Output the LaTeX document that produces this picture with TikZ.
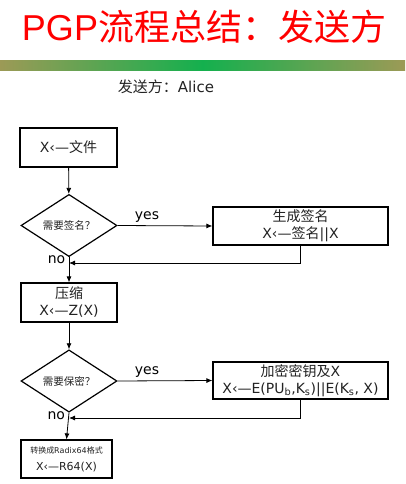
\documentclass[tikz,border=0pt]{standalone}
\usepackage{fontspec}
\setmainfont{DejaVu Sans}
\newfontfamily\cjk{Noto Sans CJK SC}
\newfontfamily\titlefont{Liberation Sans}
\usetikzlibrary{shapes.geometric, arrows.meta}
\newcommand{\zh}[1]{{\cjk #1}}
\definecolor{barolive}{HTML}{9C9A56}
\definecolor{bargreen}{HTML}{14B04E}
\definecolor{inkgray}{HTML}{222222}
\tikzset{
	box/.style={draw, line width=1.2pt, inner sep=0pt, align=center, text=inkgray, font=\fontsize{14}{17}\selectfont},
	decision/.style={diamond, draw, line width=1.2pt, inner sep=0pt, minimum width=96pt, minimum height=39pt, text=inkgray, font=\fontsize{10.5}{12}\selectfont},
	flow/.style={line width=0.8pt, -{Latex[length=6pt,width=5pt]}},
	answer/.style={font=\fontsize{14}{16}\selectfont},
}

\begin{document}
\begin{tikzpicture}[x=1pt, y=-1pt]
			\def\xMAX{405};
			\def\yMAX{484};
			\useasboundingbox (0,0) rectangle (\xMAX,\yMAX);

			\begin{scope}
				\node [text=red, font=\titlefont\fontsize{36}{40}\selectfont] (title) at (204,27) {PGP\zh{流程总结：发送方}};
				\shade [left color=barolive, right color=barolive, middle color=bargreen] (0,61) rectangle (\xMAX,71);
				\node [text=inkgray, font=\fontsize{15}{18}\selectfont] (sender) at (166,87) {\zh{发送方：}Alice};
			\end{scope}

			\begin{scope}
				\node [box, minimum width=97pt, minimum height=39pt] (file) at (68.5,147.5) {X‹—\zh{文件}};
				\node [decision] (needsign) at (69,225.5) {\zh{需要签名？}};
				\node [box, minimum width=175pt, minimum height=38pt] (sign) at (300.5,226) {\zh{生成签名}\\X‹—\zh{签名}||X};
				\node [box, minimum width=96pt, minimum height=39pt] (zip) at (69,302.5) {\zh{压缩}\\X‹—Z(X)};
				\node [decision, minimum height=38pt] (needseal) at (69,381) {\zh{需要保密？}};
				\node [box, minimum width=175pt, minimum height=37pt] (seal) at (300.5,380.5) {\zh{加密密钥及}X\\X‹—E(PU\textsubscript{b},K\textsubscript{s})||E(K\textsubscript{s}, X)};
				\node [box, minimum width=91pt, minimum height=38pt] (radix) at (66.5,459) {{\fontsize{8}{10}\selectfont\zh{转换成}Radix64\zh{格式}}\\{\fontsize{11}{14}\selectfont X‹—R64(X)}};
			\end{scope}

			\begin{scope}
				\coordinate (join1) at (needsign.south |- 0,263);
				\coordinate (join2) at (needseal.south |- 0,418);

				\draw [flow] (file) -- (needsign);
				\draw [flow] (needsign.east) -- node [answer, above, pos=0.31] {yes} (sign.west);
				\draw [flow] (needsign.south) -- node [answer, left, pos=0.1] {no} (zip.north);
				\draw [flow] (sign.south) |- (join1);

				\draw [flow] (zip) -- (needseal);
				\draw [flow] (needseal.east) -- node [answer, above, pos=0.31] {yes} (seal.west);
				\draw [flow] (needseal.south) -- node [answer, left, pos=0.1] {no} (radix.north);
				\draw [flow] (seal.south) |- (join2);
			\end{scope}
		\end{tikzpicture}
\end{document}
